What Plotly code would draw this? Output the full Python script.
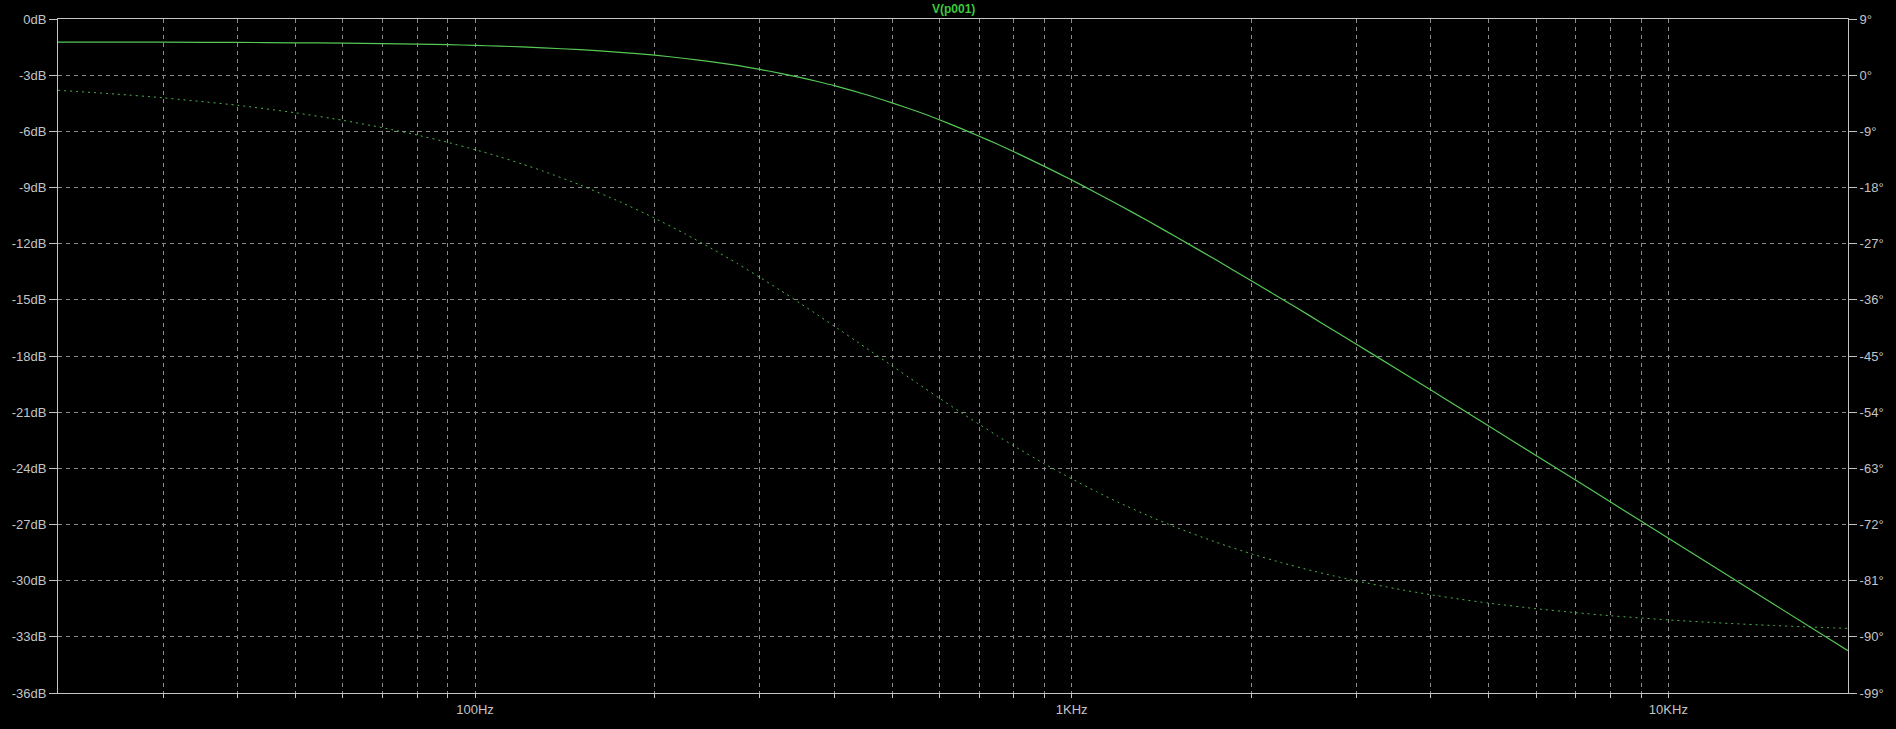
import plotly.graph_objects as go

# Frequency points (Hz)
freq_hz = [20, 25, 30, 40, 50, 60, 70, 80, 90, 100, 110, 120, 130, 150, 175,
           200, 225, 250, 275, 300, 325, 350, 375, 400, 450, 500, 550, 600,
           650, 700, 750, 800, 900, 1000, 1100, 1200, 1350, 1500, 1750, 2000,
           2250, 2500, 2750, 3000, 3500, 4000, 4500, 5000, 6000, 7000, 8000,
           10000, 12000, 15000, 20000]

# Magnitude of V(p001) in dB (solid trace, left axis)
magnitude_db = [-1.23, -1.23, -1.24, -1.25, -1.27, -1.29, -1.31, -1.34, -1.37,
                -1.41, -1.45, -1.49, -1.54, -1.64, -1.78, -1.93, -2.11, -2.29,
                -2.48, -2.69, -2.90, -3.12, -3.34, -3.56, -4.02, -4.48, -4.93,
                -5.38, -5.83, -6.26, -6.68, -7.09, -7.87, -8.60, -9.29, -9.93,
                -10.83, -11.66, -12.89, -13.98, -14.95, -15.83, -16.64, -17.37,
                -18.68, -19.82, -20.83, -21.74, -23.31, -24.64, -25.80, -27.73,
                -29.31, -31.25, -33.74]

# Phase of V(p001) in degrees (dotted trace, right axis)
phase_deg = [-2.42, -3.03, -3.63, -4.83, -6.03, -7.23, -8.42, -9.60, -10.77,
             -11.94, -13.09, -14.24, -15.37, -17.59, -20.30, -22.92, -25.44,
             -27.86, -30.17, -32.39, -34.49, -36.50, -38.41, -40.22, -43.57,
             -46.58, -49.30, -51.75, -53.96, -55.95, -57.77, -59.41, -62.28,
             -64.68, -66.73, -68.49, -70.69, -72.50, -74.88, -76.69, -78.13,
             -79.29, -80.24, -81.04, -82.30, -83.26, -84.00, -84.60, -85.49,
             -86.13, -86.62, -87.29, -87.74, -88.19, -88.65]

# Axis ticks
x_grid_vals = [30, 40, 50, 60, 70, 80, 90, 100, 200, 300, 400, 500, 600, 700,
               800, 900, 1000, 2000, 3000, 4000, 5000, 6000, 7000, 8000, 9000,
               10000]
x_labels = {100: "100Hz", 1000: "1KHz", 10000: "10KHz"}
db_ticks = [0, -3, -6, -9, -12, -15, -18, -21, -24, -27, -30, -33, -36]
deg_ticks = [9, 0, -9, -18, -27, -36, -45, -54, -63, -72, -81, -90, -99]

x_text = [x_labels.get(v, "") for v in x_grid_vals]
db_text = [f"{v}dB" for v in db_ticks]
deg_text = [f"{v}°" for v in deg_ticks]

TRACE = "#55c855"
AXIS = "#c4c4c4"
GRID = "#8a8a8a"
FONT = dict(family="Liberation Sans, Arial, sans-serif", size=13, color=AXIS)

fig = go.Figure()
fig.add_trace(go.Scatter(x=freq_hz, y=magnitude_db, mode="lines",
                         line=dict(color=TRACE, width=1.2, shape="spline",
                                   smoothing=0.6),
                         yaxis="y", showlegend=False, hoverinfo="skip"))
fig.add_trace(go.Scatter(x=freq_hz, y=phase_deg, mode="lines",
                         line=dict(color="#4db44d", width=1, dash="2px,4px",
                                   shape="spline", smoothing=0.6),
                         yaxis="y2", showlegend=False, hoverinfo="skip"))

fig.update_layout(
    width=1896, height=729,
    paper_bgcolor="black", plot_bgcolor="black",
    margin=dict(l=43, r=39, t=18, b=25),
    font=FONT,
    xaxis=dict(type="log", range=[1.30103, 4.30103],
               tickmode="array", tickvals=x_grid_vals, ticktext=x_text,
               showgrid=True, gridcolor=GRID, griddash="4px,4px", gridwidth=1,
               showline=True, linecolor=AXIS, linewidth=1, mirror=True,
               ticks="outside", ticklen=4, tickcolor=AXIS, zeroline=False,
               tickfont=FONT),
    yaxis=dict(range=[-36, 0], tickmode="array", tickvals=db_ticks,
               ticktext=db_text, showgrid=True, gridcolor=GRID,
               griddash="4px,4px", gridwidth=1, showline=True, linecolor=AXIS,
               linewidth=1, mirror=True, ticks="outside", ticklen=8,
               tickcolor=AXIS, zeroline=False, tickfont=FONT),
    yaxis2=dict(range=[-99, 9], overlaying="y", side="right",
                tickmode="array", tickvals=deg_ticks, ticktext=deg_text,
                showgrid=False, showline=True, linecolor=AXIS, linewidth=1,
                ticks="outside", ticklen=8, tickcolor=AXIS, zeroline=False,
                tickfont=FONT),
    annotations=[dict(text="<b>V(p001)</b>", x=0.5, y=1, xref="paper",
                      yref="paper", xanchor="center", yanchor="bottom",
                      yshift=1, showarrow=False,
                      font=dict(family="Liberation Sans, Arial, sans-serif",
                                size=12, color="#3cc83c"))],
)

fig.write_html("out.html", config={"displayModeBar": False},
               post_script="document.body.style.margin='0';")
